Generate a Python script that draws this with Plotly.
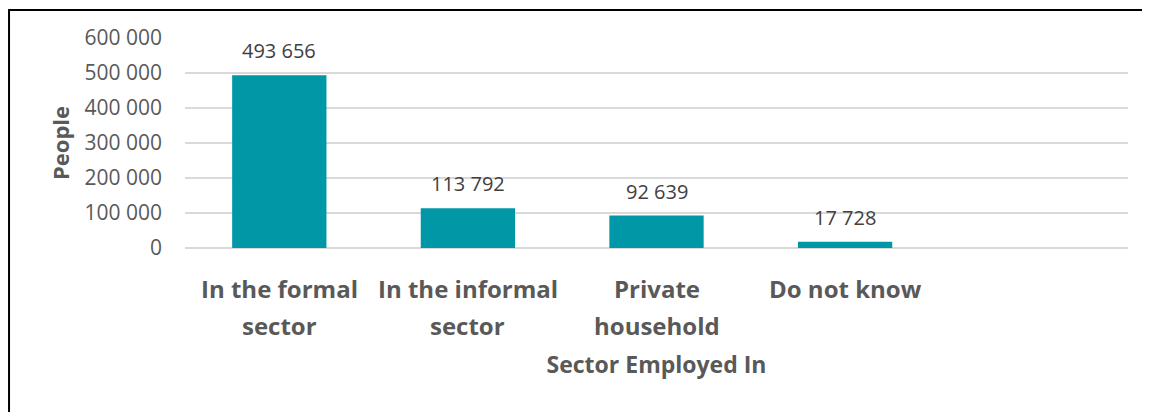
import plotly.graph_objects as go

categories = ['In the formal<br>sector', 'In the informal<br>sector', 'Private<br>household', 'Do not know', '']
people = [493656, 113792, 92639, 17728, None]
y_ticks = [0, 100000, 200000, 300000, 400000, 500000, 600000]
y_ticklabels = ['0', '100 000', '200 000', '300 000', '400 000', '500 000', '600 000']

teal = '#0097A7'
grey = '#595959'
font = 'Open Sans'

fig = go.Figure()
fig.add_trace(go.Bar(x=categories, y=people, marker=dict(color=teal, line=dict(width=0)),
                     width=0.5, hoverinfo='skip'))

# value labels above the bars
for cat, v in zip(categories, people):
    if v is None:
        continue
    fig.add_annotation(x=cat, y=v, xref='x', yref='y', text=f'{v:,}'.replace(',', ' '),
                       showarrow=False, yanchor='bottom', yshift=9,
                       font=dict(family=font, size=20, color='#404040'))

# category labels, one line per annotation to get the wide line spacing
for cat in categories:
    for k, line in enumerate(cat.split('<br>')):
        if not line:
            continue
        fig.add_annotation(x=cat, y=-0.195 - 0.172 * k, xref='x', yref='paper', text=f'<b>{line}</b>',
                           showarrow=False, yanchor='middle',
                           font=dict(family=font, size=24, color=grey))

# outer border (page body has an 8px margin, so the figure is offset)
fig.add_shape(type='rect', xref='paper', yref='paper', x0=-0.1866, x1=1.05, y0=-0.85, y1=1.1333,
              line=dict(color='black', width=2), fillcolor='rgba(0,0,0,0)')

fig.update_layout(
    width=1142, height=404,
    margin=dict(l=177, r=22, t=30, b=164),
    paper_bgcolor='white', plot_bgcolor='white',
    showlegend=False, bargap=0.5,
    font=dict(family=font, color=grey),
    xaxis=dict(type='category', range=[-0.5, 4.5], showticklabels=False, showgrid=False,
               showline=False, ticks='',
               title=dict(text='<b>Sector Employed In</b>', standoff=108,
                          font=dict(family=font, size=23, color=grey))),
    yaxis=dict(range=[0, 600000], tickvals=y_ticks, ticktext=y_ticklabels,
               showgrid=True, gridcolor='#d9d9d9', gridwidth=1.5,
               zeroline=True, zerolinecolor='#d9d9d9', zerolinewidth=2,
               ticks='', ticklabelstandoff=22, tickfont=dict(family=font, size=21, color=grey),
               title=dict(text='<b>People</b>', standoff=8,
                          font=dict(family=font, size=22, color=grey))),
)

fig.write_html('out.html')
